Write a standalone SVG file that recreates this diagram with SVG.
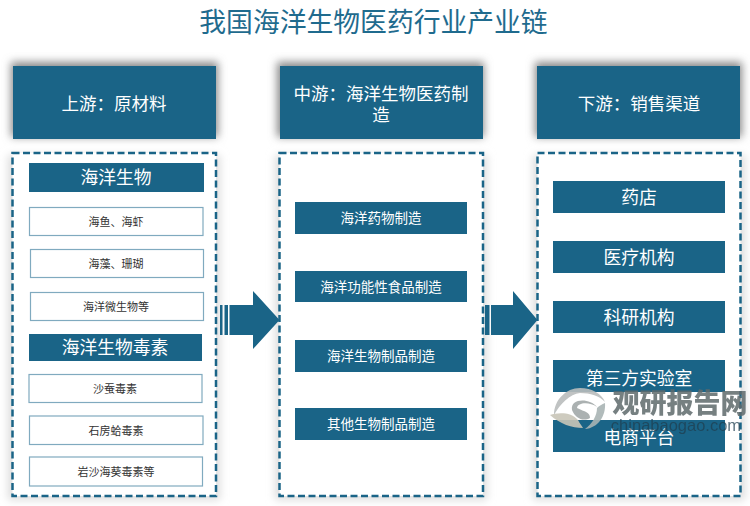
<svg xmlns="http://www.w3.org/2000/svg" width="750" height="506" viewBox="0 0 750 506">
<defs>
<filter id="sh" x="-20%" y="-20%" width="140%" height="140%"><feGaussianBlur stdDeviation="4"/></filter>
</defs>
<style>
text{font-family:"Noto Sans CJK SC",sans-serif;text-anchor:middle}
.hd{fill:#1a6487}
.dash{fill:#fff;stroke:#1a6487;stroke-width:2.500;stroke-dasharray:7 3.500}
.item{fill:#fff;stroke:#80aabf;stroke-width:1.200}
.bar{fill:#1a6487}
.w{fill:#fff}
.t15{font-size:17.500px}
.t17{font-size:17.800px}
.t14{font-size:13.500px}
.k{fill:#333;font-size:11px}
.sd{fill:#888}
</style>
<rect width="750" height="506" fill="#fff"/>
<text x="373.500" y="32" font-size="26.800" fill="#1f6b8e" id="title">我国海洋生物医药行业产业链</text>

<g id="shadows" filter="url(#sh)">
<rect class="sd" x="11" y="62" width="207" height="75"/>
<rect class="sd" x="277" y="62" width="207" height="75"/>
<rect class="sd" x="535" y="62" width="207" height="75"/>
<rect fill="#ddd" x="8" y="155" width="212" height="345"/>
<rect fill="#ddd" x="275" y="155" width="212" height="345"/>
<rect fill="#ddd" x="533" y="155" width="212" height="345"/>
</g>

<g id="col1">
<rect class="hd" x="13" y="66" width="203" height="73"/>
<text class="w t15" x="114" y="110">上游：原材料</text>
<rect class="dash" x="12.500" y="153" width="203.500" height="343"/>
</g>
<g id="col2">
<rect class="hd" x="280" y="66" width="203" height="73"/>
<text class="w t15" x="381" y="100">中游：海洋生物医药制</text>
<text class="w t15" x="381" y="121">造</text>
<rect class="dash" x="279.500" y="153" width="203.500" height="343"/>
</g>
<g id="col3">
<rect class="hd" x="537" y="66" width="203" height="73"/>
<text class="w t15" x="639" y="110">下游：销售渠道</text>
<rect class="dash" x="537.500" y="153" width="203" height="343"/>
</g>

<g id="n-a"><rect class="bar" x="29" y="163" width="175" height="29"/><text class="w t17" x="116" y="184">海洋生物</text></g>
<g id="n-a1"><rect class="item" x="29.500" y="207.500" width="173.500" height="28"/><text class="k" x="116" y="226">海鱼、海虾</text></g>
<g id="n-a2"><rect class="item" x="30.500" y="249.500" width="173" height="28"/><text class="k" x="116" y="268">海藻、珊瑚</text></g>
<g id="n-a3"><rect class="item" x="30.500" y="292.500" width="173" height="28"/><text class="k" x="116" y="311">海洋微生物等</text></g>
<g id="n-b"><rect class="bar" x="29" y="334" width="173" height="27"/><text class="w t17" x="115" y="354">海洋生物毒素</text></g>
<g id="n-b1"><rect class="item" x="29" y="374.500" width="173" height="28"/><text class="k" x="115" y="393">沙蚕毒素</text></g>
<g id="n-b2"><rect class="item" x="29.500" y="416" width="173.500" height="28.500"/><text class="k" x="116" y="435">石房蛤毒素</text></g>
<g id="n-b3"><rect class="item" x="29.500" y="457" width="173" height="29"/><text class="k" x="116" y="476">岩沙海葵毒素等</text></g>

<g id="n-m1"><rect class="bar" x="295" y="202" width="172" height="32"/><text class="w t14" x="381" y="223">海洋药物制造</text></g>
<g id="n-m2"><rect class="bar" x="295" y="271" width="172" height="31"/><text class="w t14" x="381" y="292">海洋功能性食品制造</text></g>
<g id="n-m3"><rect class="bar" x="295" y="340" width="172" height="32"/><text class="w t14" x="381" y="361">海洋生物制品制造</text></g>
<g id="n-m4"><rect class="bar" x="295" y="408" width="172" height="32"/><text class="w t14" x="381" y="429">其他生物制品制造</text></g>

<g id="n-r1"><rect class="bar" x="553" y="181" width="172" height="32"/><text class="w t17" x="639" y="204">药店</text></g>
<g id="n-r2"><rect class="bar" x="553" y="241" width="172" height="32"/><text class="w t17" x="639" y="264">医疗机构</text></g>
<g id="n-r3"><rect class="bar" x="553" y="301" width="172" height="32"/><text class="w t17" x="639" y="324">科研机构</text></g>
<g id="n-r4"><rect class="bar" x="553" y="360" width="172" height="32"/><text class="w t17" x="639" y="385">第三方实验室</text></g>
<g id="n-r5"><rect class="bar" x="553" y="420" width="172" height="32"/><text class="w t17" x="639" y="444">电商平台</text></g>

<g id="connectors" fill="#1a6487">
<path d="M220 305h2.500v30H220zM224.500 305h3.500v30h-3.500zM229.500 305H253V291L279.500 320 253 349V335H229.500z"/>
<path d="M485 305h4.500v30H485zM491 305H513V291L537.500 320 513 349V335H491z"/>
</g>

<g id="watermark">
<path d="M554 415C554 400 566 388 580 388 592 388 602 394 605 402 600 396 590 393 580 393 570 394 560 404 554 415Z" fill="#b9bdbd" opacity=".9"/>
<path d="M550 415C558 412 572 412 578 420 580 424 582 426 583 428 572 428 560 424 550 415Z" fill="#c9c5b8" opacity=".9"/>
<path d="M605 403C606 416 598 428 585 429 592 424 597 416 597 408 599 406 602 404 605 403Z" fill="#a9b4b4" opacity=".9"/>
<path d="M572 410C570 398 590 398 597 407 590 402 578 402 577 408 585 412 590 412 590 418 583 422 575 418 572 410Z" fill="#a2a8a8" opacity=".9"/>
<text x="680" y="413" font-size="27" font-weight="900" fill="#5f6a6c" opacity=".85">观研报告网</text>
<text x="676" y="431" font-size="16.500" fill="#1f3f50" opacity=".75" style="font-family:'Liberation Sans',sans-serif">chinabaogao.com</text>
</g>
</svg>
